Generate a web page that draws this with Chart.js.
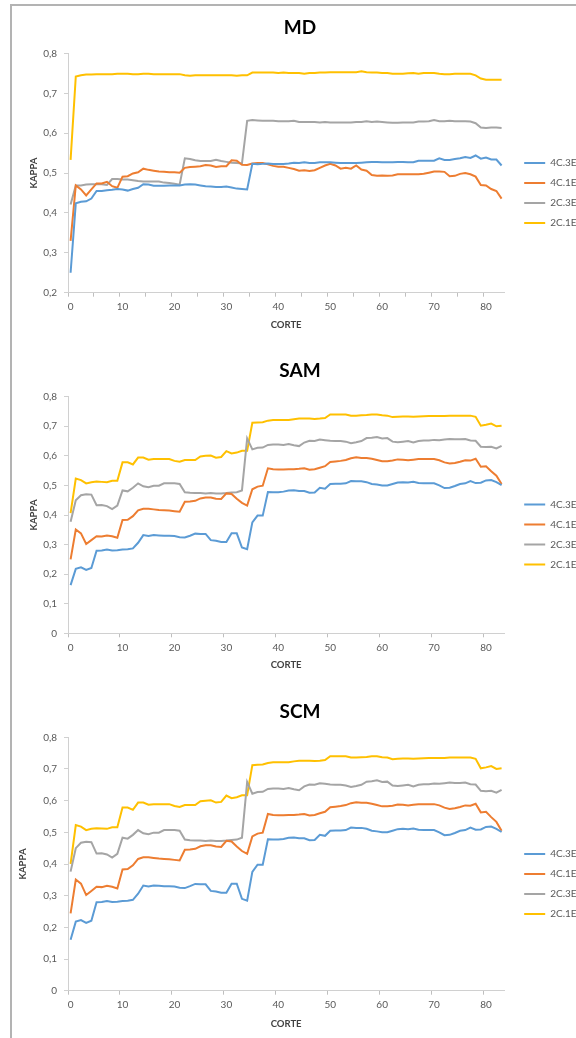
<!DOCTYPE html>
<html>
<head>
<meta charset="utf-8">
<script src="https://cdn.jsdelivr.net/npm/chart.js@4.4.1/dist/chart.umd.min.js"></script>
<style>
html,body{margin:0;padding:0;background:#fff;overflow:hidden;width:576px;height:1038px;}
#frame{position:absolute;left:10px;top:4px;width:700px;height:1100px;border-left:2px solid #b3b3b3;border-top:2px solid #b3b3b3;}
canvas{position:absolute;left:12px;display:block;}
</style>
</head>
<body>
<div id="frame"></div>
<canvas id="cMD" width="600" height="374" style="top:6px"></canvas>
<canvas id="cSAM" width="600" height="373" style="top:348px"></canvas>
<canvas id="cSCM" width="600" height="388" style="top:690px"></canvas>
<script>
// ---------- data ----------
const CORTE = [0,1,2,3,4,5,6,7,8,9,10,11,12,13,14,15,16,17,18,19,20,21,22,23,24,25,26,27,28,29,30,31,32,33,34,35,36,37,38,39,40,41,42,43,44,45,46,47,48,49,50,51,52,53,54,55,56,57,58,59,60,61,62,63,64,65,66,67,68,69,70,71,72,73,74,75,76,77,78,79,80,81,82,83];
const SERIES_NAMES = ['4C.3E', '4C.1E', '2C.3E', '2C.1E'];
const COLORS = ['#5B9BD5', '#ED7D31', '#A5A5A5', '#FFC000'];

const MD_4C3E = [0.250,0.424,0.428,0.429,0.436,0.455,0.455,0.457,0.458,0.460,0.459,0.456,0.460,0.463,0.472,0.471,0.468,0.468,0.468,0.469,0.469,0.469,0.471,0.472,0.471,0.469,0.467,0.466,0.465,0.465,0.466,0.464,0.461,0.460,0.459,0.523,0.522,0.523,0.524,0.523,0.523,0.523,0.524,0.526,0.525,0.527,0.525,0.525,0.527,0.527,0.527,0.526,0.525,0.525,0.525,0.525,0.526,0.527,0.528,0.528,0.527,0.527,0.527,0.528,0.528,0.527,0.527,0.531,0.531,0.531,0.531,0.537,0.533,0.533,0.535,0.537,0.540,0.538,0.544,0.536,0.539,0.534,0.534,0.519];
const MD_4C1E = [0.330,0.469,0.459,0.444,0.459,0.474,0.474,0.478,0.467,0.463,0.491,0.492,0.499,0.502,0.511,0.508,0.506,0.504,0.503,0.502,0.502,0.501,0.513,0.515,0.516,0.517,0.520,0.519,0.515,0.517,0.517,0.532,0.531,0.521,0.520,0.524,0.525,0.525,0.522,0.518,0.516,0.516,0.513,0.510,0.506,0.507,0.505,0.507,0.513,0.519,0.523,0.519,0.511,0.513,0.511,0.519,0.509,0.506,0.495,0.493,0.494,0.493,0.494,0.497,0.497,0.497,0.497,0.497,0.498,0.501,0.504,0.504,0.503,0.492,0.493,0.498,0.500,0.497,0.491,0.470,0.469,0.460,0.455,0.436];
const MD_2C3E = [0.421,0.469,0.469,0.471,0.472,0.472,0.472,0.470,0.485,0.485,0.484,0.484,0.482,0.480,0.479,0.479,0.479,0.479,0.476,0.475,0.473,0.471,0.537,0.535,0.532,0.530,0.530,0.530,0.533,0.530,0.528,0.526,0.525,0.524,0.631,0.633,0.632,0.631,0.631,0.631,0.630,0.630,0.630,0.631,0.628,0.628,0.628,0.628,0.627,0.628,0.627,0.627,0.627,0.627,0.627,0.628,0.628,0.630,0.628,0.629,0.628,0.627,0.626,0.626,0.627,0.627,0.627,0.629,0.629,0.630,0.633,0.630,0.630,0.631,0.630,0.630,0.630,0.629,0.625,0.614,0.613,0.614,0.614,0.613];
const MD_2C1E = [0.533,0.742,0.745,0.747,0.747,0.748,0.748,0.748,0.748,0.749,0.749,0.749,0.748,0.748,0.749,0.749,0.748,0.748,0.748,0.748,0.748,0.748,0.745,0.744,0.745,0.745,0.745,0.745,0.745,0.745,0.745,0.745,0.744,0.745,0.745,0.752,0.752,0.752,0.752,0.752,0.751,0.752,0.751,0.751,0.751,0.749,0.751,0.751,0.752,0.752,0.753,0.753,0.753,0.753,0.753,0.753,0.755,0.753,0.752,0.752,0.751,0.751,0.749,0.749,0.749,0.750,0.751,0.749,0.751,0.751,0.751,0.749,0.748,0.748,0.749,0.749,0.749,0.749,0.745,0.737,0.734,0.734,0.734,0.734];

const SAM_4C3E = [0.163,0.218,0.223,0.214,0.221,0.279,0.280,0.283,0.280,0.281,0.283,0.284,0.287,0.306,0.332,0.329,0.332,0.331,0.330,0.330,0.329,0.325,0.324,0.330,0.337,0.336,0.336,0.315,0.313,0.309,0.309,0.338,0.338,0.290,0.284,0.375,0.398,0.398,0.478,0.477,0.477,0.479,0.483,0.484,0.481,0.481,0.475,0.476,0.492,0.489,0.505,0.506,0.506,0.507,0.515,0.514,0.514,0.511,0.505,0.503,0.500,0.500,0.505,0.510,0.511,0.510,0.512,0.508,0.507,0.507,0.507,0.500,0.491,0.492,0.498,0.505,0.507,0.515,0.508,0.509,0.517,0.518,0.511,0.501];
const SAM_4C1E = [0.250,0.351,0.338,0.302,0.315,0.328,0.327,0.331,0.328,0.323,0.383,0.384,0.396,0.416,0.421,0.421,0.419,0.417,0.416,0.415,0.413,0.411,0.445,0.446,0.448,0.456,0.459,0.459,0.455,0.454,0.473,0.471,0.455,0.441,0.432,0.487,0.496,0.499,0.558,0.555,0.554,0.554,0.555,0.555,0.556,0.558,0.553,0.555,0.560,0.565,0.579,0.581,0.583,0.586,0.592,0.595,0.593,0.593,0.590,0.586,0.582,0.582,0.584,0.588,0.587,0.585,0.587,0.589,0.589,0.589,0.589,0.585,0.578,0.574,0.576,0.580,0.585,0.584,0.590,0.563,0.565,0.548,0.533,0.505];
const SAM_2C3E = [0.377,0.450,0.467,0.470,0.469,0.433,0.434,0.430,0.420,0.432,0.483,0.480,0.492,0.507,0.497,0.494,0.499,0.499,0.507,0.507,0.507,0.505,0.477,0.475,0.474,0.474,0.473,0.474,0.473,0.473,0.474,0.476,0.477,0.483,0.659,0.622,0.627,0.628,0.637,0.638,0.638,0.637,0.640,0.636,0.633,0.645,0.651,0.650,0.655,0.653,0.651,0.650,0.650,0.648,0.643,0.646,0.650,0.660,0.661,0.664,0.659,0.660,0.648,0.646,0.648,0.650,0.645,0.650,0.652,0.652,0.654,0.653,0.655,0.657,0.656,0.656,0.657,0.652,0.651,0.631,0.630,0.631,0.625,0.634];
const SAM_2C1E = [0.406,0.523,0.518,0.507,0.511,0.513,0.512,0.511,0.516,0.516,0.578,0.578,0.571,0.594,0.594,0.587,0.589,0.589,0.589,0.589,0.583,0.580,0.586,0.586,0.586,0.598,0.600,0.601,0.594,0.596,0.616,0.608,0.611,0.617,0.617,0.712,0.713,0.714,0.719,0.721,0.721,0.721,0.721,0.724,0.726,0.726,0.726,0.725,0.726,0.728,0.740,0.740,0.740,0.740,0.736,0.736,0.737,0.738,0.740,0.740,0.737,0.736,0.731,0.732,0.733,0.733,0.732,0.733,0.734,0.735,0.735,0.735,0.735,0.736,0.736,0.736,0.736,0.736,0.732,0.702,0.705,0.709,0.700,0.702];

const SCM_4C3E = [0.161,0.218,0.223,0.214,0.221,0.279,0.280,0.283,0.280,0.281,0.283,0.284,0.287,0.306,0.332,0.329,0.332,0.331,0.330,0.330,0.329,0.325,0.324,0.330,0.337,0.336,0.336,0.315,0.313,0.309,0.309,0.338,0.338,0.290,0.284,0.375,0.398,0.398,0.478,0.477,0.477,0.479,0.483,0.484,0.481,0.481,0.475,0.476,0.492,0.489,0.505,0.506,0.506,0.507,0.515,0.514,0.514,0.511,0.505,0.503,0.500,0.500,0.505,0.510,0.511,0.510,0.512,0.508,0.507,0.507,0.507,0.500,0.491,0.492,0.498,0.505,0.507,0.515,0.508,0.509,0.517,0.518,0.511,0.501];
const SCM_4C1E = [0.244,0.351,0.338,0.302,0.315,0.328,0.327,0.331,0.328,0.323,0.383,0.384,0.396,0.416,0.421,0.421,0.419,0.417,0.416,0.415,0.413,0.411,0.445,0.446,0.448,0.456,0.459,0.459,0.455,0.454,0.473,0.471,0.455,0.441,0.432,0.487,0.496,0.499,0.558,0.555,0.554,0.554,0.555,0.555,0.556,0.558,0.553,0.555,0.560,0.565,0.579,0.581,0.583,0.586,0.592,0.595,0.593,0.593,0.590,0.586,0.582,0.582,0.584,0.588,0.587,0.585,0.587,0.589,0.589,0.589,0.589,0.585,0.578,0.574,0.576,0.580,0.585,0.584,0.590,0.563,0.565,0.548,0.533,0.505];
const SCM_2C3E = [0.376,0.450,0.467,0.470,0.469,0.433,0.434,0.430,0.420,0.432,0.483,0.480,0.492,0.507,0.497,0.494,0.499,0.499,0.507,0.507,0.507,0.505,0.477,0.475,0.474,0.474,0.473,0.474,0.473,0.473,0.474,0.476,0.477,0.483,0.659,0.622,0.627,0.628,0.637,0.638,0.638,0.637,0.640,0.636,0.633,0.645,0.651,0.650,0.655,0.653,0.651,0.650,0.650,0.648,0.643,0.646,0.650,0.660,0.661,0.664,0.659,0.660,0.648,0.646,0.648,0.650,0.645,0.650,0.652,0.652,0.654,0.653,0.655,0.657,0.656,0.656,0.657,0.652,0.651,0.631,0.630,0.631,0.625,0.634];
const SCM_2C1E = [0.400,0.523,0.518,0.507,0.511,0.513,0.512,0.511,0.516,0.516,0.578,0.578,0.571,0.594,0.594,0.587,0.589,0.589,0.589,0.589,0.583,0.580,0.586,0.586,0.586,0.598,0.600,0.601,0.594,0.596,0.616,0.608,0.611,0.617,0.617,0.712,0.713,0.714,0.719,0.721,0.721,0.721,0.721,0.724,0.726,0.726,0.726,0.725,0.726,0.728,0.740,0.740,0.740,0.740,0.736,0.736,0.737,0.738,0.740,0.740,0.737,0.736,0.731,0.732,0.733,0.733,0.732,0.733,0.734,0.735,0.735,0.735,0.735,0.736,0.736,0.736,0.736,0.736,0.732,0.702,0.705,0.709,0.700,0.702];

const X_TITLE = 'CORTE';
const Y_TITLE = 'KAPPA';

// ---------- chart builder ----------
const FONT = 'Lato, "Open Sans", "DejaVu Sans", sans-serif';
const LABEL_COLOR = '#595959';
const AXIS_COLOR = '#d0d0d0';
const TICK_COLOR = '#bfbfbf';

function fmtY(v) {
  if (Math.abs(v) < 1e-9) return '0';
  return (Math.round(v * 10) / 10).toFixed(1).replace('.', ',');
}

function makeChart(id, title, series, yMin, tickEvery, L) {
  return new Chart(document.getElementById(id), {
    type: 'line',
    data: {
      labels: CORTE,
      datasets: series.map((s, k) => ({
        label: SERIES_NAMES[k], data: s,
        borderColor: COLORS[k], backgroundColor: COLORS[k],
        borderWidth: 2, pointRadius: 0, pointHoverRadius: 0, tension: 0, fill: false
      }))
    },
    options: {
      responsive: false, animation: false, events: [],
      layout: { padding: { left: L.padL, right: L.padR, top: 0, bottom: 0 } },
      plugins: {
        tooltip: { enabled: false },
        title: {
          display: true, text: title, color: '#000',
          font: { family: FONT, size: 19, weight: 'bold' },
          padding: { top: L.tTop, bottom: L.tBot }
        },
        legend: {
          position: 'right',
          labels: {
            boxWidth: 21, boxHeight: 2, padding: 10, color: LABEL_COLOR,
            font: { family: FONT, size: 10 },
            generateLabels: (chart) => Chart.defaults.plugins.legend.labels.generateLabels(chart)
              .map(it => Object.assign(it, { fillStyle: it.strokeStyle, lineWidth: 0 }))
          }
        }
      },
      scales: {
        x: {
          type: 'category', offset: true,
          grid: {
            offset: true, drawOnChartArea: false, drawTicks: true, tickLength: 4,
            tickColor: (ctx) => (ctx.index !== undefined && ctx.index % tickEvery === 0) ? TICK_COLOR : 'rgba(0,0,0,0)'
          },
          border: { color: AXIS_COLOR, width: 1 },
          ticks: {
            autoSkip: false, maxRotation: 0, minRotation: 0, padding: 4,
            color: LABEL_COLOR, font: { family: FONT, size: 10 },
            callback: (v, i) => (i % 10 === 0 ? String(CORTE[i]) : '')
          },
          title: {
            display: true, text: X_TITLE, color: '#404040',
            font: { family: FONT, size: 9.5, weight: 'bold' },
            padding: { top: L.xtTop, bottom: L.xtBot }
          }
        },
        y: {
          min: yMin, max: 0.8,
          grid: { drawOnChartArea: false, drawTicks: true, tickLength: 4, tickColor: AXIS_COLOR },
          border: { color: AXIS_COLOR, width: 1 },
          ticks: {
            stepSize: 0.1, padding: 7, color: LABEL_COLOR,
            font: { family: FONT, size: 10 }, callback: (v) => fmtY(v)
          },
          title: {
            display: true, text: Y_TITLE, color: '#404040',
            font: { family: FONT, size: 9.5, weight: 'bold' },
            padding: { top: L.ytTop, bottom: 0 }
          },
          afterFit: (s) => { s.width = L.yW; }
        },
        gap: {
          position: 'right', display: true,
          grid: { display: false }, border: { display: false }, ticks: { display: false },
          afterFit: (s) => { s.width = 10; }
        }
      }
    }
  });
}

function draw() {
  makeChart('cMD', 'MD', [MD_4C3E, MD_4C1E, MD_2C3E, MD_2C1E], 0.2, 5,
    { padL: 1.4, padR: 25.4, yW: 54.6, tTop: 10, tBot: 14.6, xtTop: 2.6, xtBot: 49.3, ytTop: 14.4 });
  makeChart('cSAM', 'SAM', [SAM_4C3E, SAM_4C1E, SAM_2C3E, SAM_2C1E], 0, 10,
    { padL: 1.4, padR: 25.4, yW: 54.6, tTop: 11.3, tBot: 14.6, xtTop: 2.0, xtBot: 50.3, ytTop: 14.9 });
  makeChart('cSCM', 'SCM', [SCM_4C3E, SCM_4C1E, SCM_2C3E, SCM_2C1E], 0, 10,
    { padL: 1.4, padR: 25.4, yW: 54.6, tTop: 10.3, tBot: 14.2, xtTop: 3.6, xtBot: 48.3, ytTop: 3.9 });
}

Promise.all([
  document.fonts.load('10px Lato'),
  document.fonts.load('bold 19px Lato')
]).catch(() => {}).then(draw);
</script>
</body>
</html>
